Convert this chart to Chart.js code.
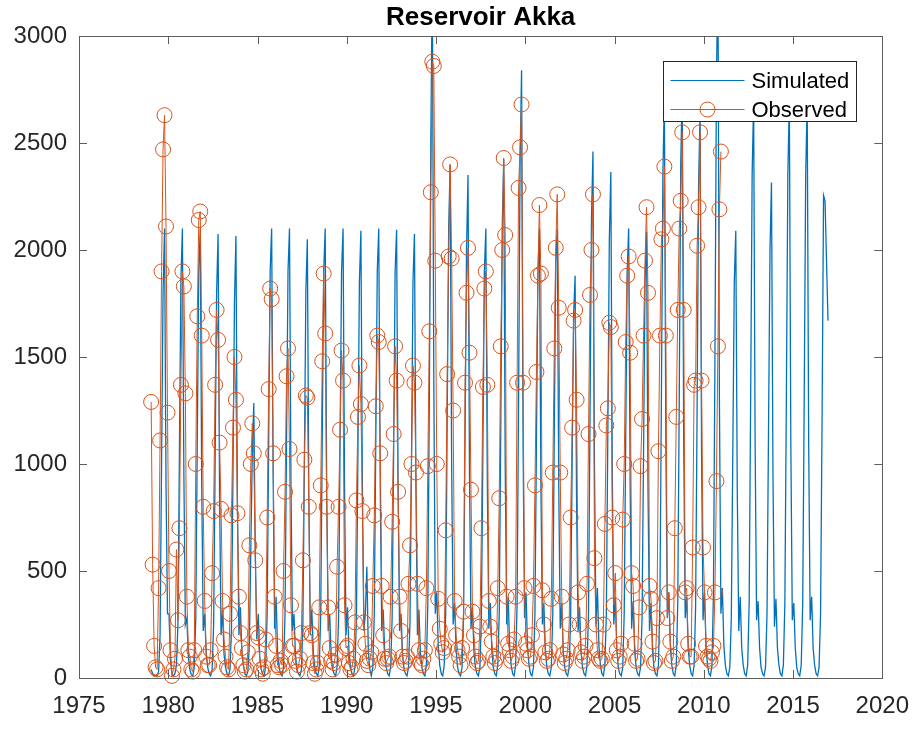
<!DOCTYPE html>
<html>
<head>
<meta charset="utf-8">
<script src="https://cdn.jsdelivr.net/npm/chart.js@4.4.0/dist/chart.umd.min.js"></script>
<style>
  html, body { margin: 0; padding: 0; background: #fff; }
</style>
</head>
<body>
<canvas id="chart" width="923" height="729"></canvas>
<script>
var titleText = 'Reservoir Akka';
var seriesNames = ['Simulated', 'Observed'];
var startYear = 1979;           // first month of both series is Jan 1979
var xRange = [1975, 2020, 5];   // min, max, step
var yRange = [0, 3000, 500];

// monthly values, one row per year (Jan..Dec), 1979-2016
var simulated = [
  40, 20, 10, 10, 10, 30, 200, 1000, 1800, 2100, 900, 300,
  300, 80, 20, 10, 20, 60, 250, 1050, 1850, 2100, 950, 250,
  280, 100, 40, 15, 10, 50, 280, 1100, 1900, 2100, 900, 220,
  300, 120, 50, 20, 10, 40, 250, 1000, 1800, 2075, 850, 200,
  320, 110, 50, 20, 10, 40, 230, 950, 1750, 2065, 800, 200,
  330, 120, 60, 20, 10, 30, 150, 600, 1050, 1285, 600, 180,
  300, 100, 40, 15, 10, 60, 300, 1100, 1900, 2100, 950, 230,
  380, 120, 50, 20, 10, 50, 300, 1100, 1900, 2100, 900, 220,
  300, 110, 40, 20, 10, 40, 250, 1000, 1800, 2050, 850, 200,
  320, 120, 50, 20, 10, 50, 300, 1100, 1900, 2100, 900, 220,
  300, 110, 40, 20, 10, 50, 280, 1100, 1900, 2100, 900, 200,
  330, 120, 50, 20, 10, 50, 280, 1050, 1850, 2090, 900, 220,
  300, 520, 120, 40, 10, 50, 300, 1100, 1900, 2100, 900, 220,
  320, 120, 50, 20, 10, 50, 280, 1050, 1900, 2095, 900, 220,
  300, 110, 40, 20, 10, 50, 260, 1000, 1850, 2075, 880, 200,
  320, 120, 50, 20, 10, 60, 350, 1300, 2500, 3300, 1400, 300,
  400, 150, 60, 20, 10, 60, 300, 1200, 2100, 2400, 1000, 250,
  350, 130, 50, 20, 10, 50, 280, 1100, 2000, 2350, 950, 230,
  330, 120, 50, 20, 10, 50, 280, 1050, 1900, 2100, 900, 230,
  350, 130, 50, 20, 10, 60, 300, 1150, 2100, 2420, 1000, 250,
  380, 140, 60, 20, 10, 60, 350, 1300, 2400, 2840, 1100, 280,
  400, 150, 60, 20, 10, 50, 300, 1100, 1900, 2100, 900, 250,
  350, 130, 50, 20, 10, 50, 300, 1150, 1950, 2100, 900, 230,
  350, 130, 50, 20, 10, 50, 280, 1000, 1700, 1880, 800, 220,
  330, 120, 50, 20, 10, 60, 300, 1200, 2150, 2460, 1000, 250,
  420, 150, 60, 20, 10, 60, 300, 1150, 2050, 2365, 950, 250,
  380, 140, 50, 20, 10, 50, 300, 1100, 1900, 2100, 900, 230,
  360, 130, 50, 20, 10, 50, 280, 1050, 1850, 2085, 880, 220,
  350, 130, 50, 20, 10, 60, 350, 1300, 2350, 2720, 1100, 280,
  400, 150, 60, 20, 10, 60, 350, 1300, 2400, 2750, 1100, 280,
  380, 140, 60, 20, 10, 60, 330, 1250, 2300, 2650, 1050, 270,
  400, 150, 60, 20, 10, 60, 400, 1500, 2800, 3300, 1300, 300,
  420, 150, 60, 20, 10, 50, 280, 1050, 1850, 2090, 880, 220,
  380, 140, 60, 20, 10, 60, 350, 1300, 2350, 2700, 1100, 270,
  360, 140, 50, 20, 10, 50, 300, 1150, 2000, 2315, 950, 240,
  370, 140, 60, 20, 10, 60, 350, 1300, 2350, 2700, 1100, 270,
  350, 140, 50, 20, 10, 60, 350, 1300, 2350, 2700, 1100, 270,
  380, 140, 60, 20, 10, 50, 300, 1200, 2255, 2230, 1950, 1670
];

// monthly values, one row per year (Jan..Dec), 1979-2010
var observed = [
  1290, 530, 150, 50, 40, 420, 1110, 1900, 2470, 2630, 2110, 1240,
  500, 130, 10, 40, 90, 600, 270, 700, 1370, 1900, 1830, 1330,
  380, 130, 100, 40, 30, 130, 1000, 1690, 2140, 2180, 1600, 800,
  360, 100, 60, 60, 130, 490, 780, 1370, 1720, 1580, 1100, 790,
  360, 180, 100, 50, 40, 300, 760, 1170, 1500, 1300, 770, 380,
  210, 140, 60, 30, 40, 120, 620, 1000, 1190, 1050, 550, 210,
  190, 90, 40, 20, 50, 180, 750, 1350, 1820, 1770, 1050, 380,
  150, 60, 50, 80, 60, 500, 870, 1410, 1540, 1070, 340, 150,
  150, 80, 30, 60, 90, 210, 550, 1020, 1320, 1310, 800, 210,
  200, 70, 20, 40, 70, 330, 900, 1480, 1890, 1610, 800, 330,
  140, 80, 40, 70, 110, 520, 800, 1160, 1530, 1390, 340, 140,
  150, 70, 40, 50, 90, 260, 830, 1220, 1460, 1280, 780, 260,
  160, 80, 60, 90, 120, 430, 760, 1270, 1600, 1570, 1050, 430,
  200, 90, 70, 90, 100, 380, 730, 1140, 1550, 1390, 870, 380,
  220, 100, 70, 80, 100, 440, 620, 1000, 1460, 1380, 960, 440,
  130, 70, 60, 90, 130, 420, 990, 1620, 2270, 2880, 2860, 1950,
  1000, 370, 230, 160, 120, 140, 690, 1420, 1970, 2400, 1960, 1250,
  360, 200, 130, 100, 60, 140, 310, 1380, 1800, 2010, 1520, 880,
  310, 200, 100, 70, 80, 240, 700, 1360, 1820, 1900, 1370, 360,
  240, 170, 100, 70, 90, 420, 840, 1550, 2000, 2430, 2070, 380,
  160, 130, 80, 100, 180, 380, 1380, 2290, 2480, 2680, 1380, 420,
  160, 130, 90, 100, 200, 430, 900, 1430, 1880, 2210, 1890, 410,
  250, 120, 80, 90, 130, 370, 960, 1540, 2010, 2260, 1730, 960,
  380, 110, 70, 90, 130, 250, 750, 1170, 1670, 1720, 1300, 400,
  250, 120, 80, 100, 150, 440, 1140, 1790, 2000, 2260, 560, 250,
  130, 90, 80, 90, 250, 720, 1180, 1260, 1660, 1640, 750, 340,
  490, 130, 80, 100, 160, 740, 1000, 1570, 1880, 1970, 1520, 490,
  430, 160, 80, 90, 330, 990, 1210, 1600, 1950, 2200, 1800, 430,
  370, 170, 70, 80, 280, 1060, 1600, 2050, 2100, 2390, 1600, 280,
  400, 170, 80, 100, 700, 1220, 1720, 2100, 2230, 2550, 1720, 400,
  420, 160, 100, 100, 610, 1370, 1390, 2020, 2200, 2550, 1390, 610,
  400, 150, 100, 90, 80, 120, 150, 400, 920, 1550, 2190, 2460
];

var blue = '#0072BD';
var orange = '#D95319';
var axisColor = '#262626';
var fontFamily = '"Liberation Sans", Arial, sans-serif';

function toPoints(values) {
  var pts = [];
  for (var i = 0; i < values.length; i++) {
    pts.push({ x: startYear + (i + 0.5) / 12, y: values[i] });
  }
  return pts;
}

// title, box, inward ticks and legend like the matlab figure
var matlabAxes = {
  id: 'matlabAxes',
  afterDraw: function(chart) {
    var ctx = chart.ctx;
    var a = chart.chartArea;
    var xs = chart.scales.x, ys = chart.scales.y;
    var tl = 8;
    ctx.save();

    ctx.fillStyle = '#000';
    ctx.font = 'bold 26px ' + fontFamily;
    ctx.textAlign = 'center';
    ctx.textBaseline = 'middle';
    ctx.fillText(titleText, (a.left + a.right) / 2, a.top - 18);

    ctx.strokeStyle = '#5e5e5e';
    ctx.lineWidth = 1;
    ctx.beginPath();
    xs.ticks.forEach(function(t) {
      var px = Math.round(xs.getPixelForValue(t.value)) + 0.5;
      ctx.moveTo(px, a.bottom); ctx.lineTo(px, a.bottom - tl);
      ctx.moveTo(px, a.top); ctx.lineTo(px, a.top + tl);
    });
    ys.ticks.forEach(function(t) {
      var py = Math.round(ys.getPixelForValue(t.value)) + 0.5;
      ctx.moveTo(a.left, py); ctx.lineTo(a.left + tl, py);
      ctx.moveTo(a.right, py); ctx.lineTo(a.right - tl, py);
    });
    ctx.stroke();
    ctx.strokeRect(Math.round(a.left) + 0.5, Math.round(a.top) + 0.5,
                   Math.round(a.right - a.left), Math.round(a.bottom - a.top));

    // legend
    var lw = 193, lh = 60;
    var lx = Math.round(a.right - 26 - lw) + 0.5, ly = Math.round(a.top + 25) + 0.5;
    ctx.fillStyle = '#fff';
    ctx.fillRect(lx, ly, lw, lh);
    ctx.strokeStyle = axisColor;
    ctx.strokeRect(lx, ly, lw, lh);
    ctx.font = '22px ' + fontFamily;
    ctx.textAlign = 'left';
    ctx.textBaseline = 'middle';
    ctx.fillStyle = '#000';
    var rows = [ly + 19, ly + 48];
    ctx.lineWidth = 1.2;
    ctx.strokeStyle = blue;
    ctx.beginPath(); ctx.moveTo(lx + 7, rows[0]); ctx.lineTo(lx + 81, rows[0]); ctx.stroke();
    ctx.fillText(seriesNames[0], lx + 88, rows[0] + 1);
    ctx.strokeStyle = orange;
    ctx.lineWidth = 1;
    ctx.beginPath(); ctx.moveTo(lx + 7, rows[1]); ctx.lineTo(lx + 81, rows[1]); ctx.stroke();
    ctx.beginPath(); ctx.arc(lx + 44, rows[1], 7.5, 0, Math.PI * 2); ctx.stroke();
    ctx.fillText(seriesNames[1], lx + 88, rows[1] + 1);
    ctx.restore();
  }
};

var ctx = document.getElementById('chart');
var chart = new Chart(ctx, {
  type: 'line',
  data: {
    datasets: [
      {
        label: seriesNames[0],
        data: toPoints(simulated),
        borderColor: blue,
        borderWidth: 1.3,
        pointRadius: 0,
        tension: 0,
        order: 1
      },
      {
        label: seriesNames[1],
        data: toPoints(observed),
        borderColor: orange,
        borderWidth: 1,
        pointRadius: 7.5,
        pointStyle: 'circle',
        pointBorderColor: orange,
        pointBackgroundColor: 'rgba(0,0,0,0)',
        pointBorderWidth: 1,
        tension: 0,
        clip: false,
        order: 0
      }
    ]
  },
  options: {
    responsive: false,
    animation: false,
    devicePixelRatio: 1,
    layout: { padding: { left: 0, right: 33, top: 36, bottom: 0 } },
    plugins: {
      legend: { display: false },
      tooltip: { enabled: false },
      title: { display: false }
    },
    scales: {
      x: {
        type: 'linear',
        min: xRange[0], max: xRange[1],
        grid: { display: false, drawTicks: false },
        border: { display: false },
        ticks: {
          stepSize: xRange[2],
          color: axisColor,
          padding: 14,
          maxRotation: 0,
          font: { family: fontFamily, size: 24 },
          callback: function(v) { return String(v); }
        },
        afterFit: function(s) { s.height = 51; }
      },
      y: {
        min: yRange[0], max: yRange[1],
        grid: { display: false, drawTicks: false },
        border: { display: false },
        ticks: {
          stepSize: yRange[2],
          color: axisColor,
          padding: 12,
          font: { family: fontFamily, size: 24 },
          callback: function(v) { return String(v); }
        },
        afterFit: function(s) { s.width = 79; }
      }
    }
  },
  plugins: [matlabAxes]
});
</script>
</body>
</html>
